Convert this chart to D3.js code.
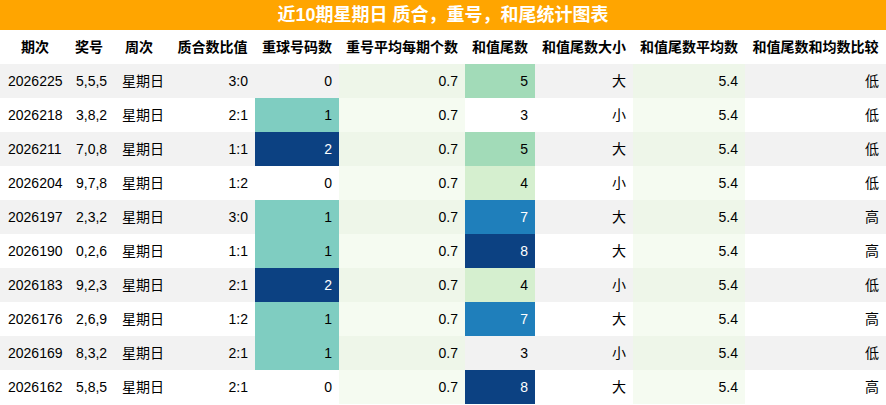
<!DOCTYPE html>
<html><head><meta charset="utf-8">
<script src="https://cdn.jsdelivr.net/npm/d3@7"></script>
<style>body{margin:0;background:#fff;font-family:"Liberation Sans","Noto Sans CJK SC",sans-serif}</style>
</head><body><svg id="c" width="886" height="405"></svg>
<script>
const title = "近10期星期日 质合，重号，和尾统计图表";
const headers = ["期次","奖号","周次","质合数比值","重球号码数","重号平均每期个数","和值尾数","和值尾数大小","和值尾数平均数","和值尾数和均数比较"];
const periods = ["2026225","2026218","2026211","2026204","2026197","2026190","2026183","2026176","2026169","2026162"];
const draws = ["5,5,5","3,8,2","7,0,8","9,7,8","2,3,2","0,2,6","9,2,3","2,6,9","8,3,2","5,8,5"];
const weekday = Array(10).fill("星期日");
const ratio = ["3:0","2:1","1:1","1:2","3:0","1:1","2:1","1:2","2:1","2:1"];
const repeatCount = [0,1,2,0,1,1,2,1,1,0];
const repeatAvg = Array(10).fill(0.7);
const tail = [5,3,5,4,7,8,4,7,3,8];
const tailSize = ["大","小","大","小","大","大","小","大","小","大"];
const tailAvg = Array(10).fill(5.4);
const compare = ["低","低","低","低","高","高","低","高","低","高"];

const svg = d3.select("#c");
const W = 886;
const edges = [0,70,108,170,255,339,465,535,633,745,886];
const x = i => edges[i];
const y = d3.scaleBand().domain(d3.range(10)).range([64,404]).padding(0);
const repColor = d3.scaleOrdinal().domain([1,2]).range(["#7fcdc1","#0c4182"]);
const tailColor = d3.scaleOrdinal().domain([4,5,7,8]).range(["#d5efcf","#a2dbb8","#1f7fbb","#0c4182"]);

svg.append("rect").attr("x",0).attr("y",0).attr("width",W).attr("height",30).attr("fill","#ffa500");
svg.append("text").attr("x",W/2).attr("y",21).attr("text-anchor","middle").attr("fill","#fff")
  .attr("font-size",18).attr("font-weight","bold").text(title);
headers.forEach((h,i)=>svg.append("text").attr("x",(x(i)+x(i+1))/2).attr("y",52).attr("text-anchor","middle")
  .attr("font-size",14).attr("font-weight","bold").attr("fill","#000").text(h));

const cols = [periods,draws,weekday,ratio,repeatCount,repeatAvg,tail,tailSize,tailAvg,compare];
const align = ["start","start","start","end","end","end","end","end","end","end"];
const startX = [8,76,122];
d3.range(10).forEach(r=>{
  const stripe = r%2===0 ? "#f2f2f2" : "#ffffff";
  cols.forEach((col,c)=>{
    let fill = stripe, tc="#000";
    if(c===5||c===8) fill = r%2===0 ? "#eef6e9" : "#f5fbf1";
    if(c===4 && repeatCount[r]>0){fill=repColor(repeatCount[r]); if(repeatCount[r]===2) tc="#fff";}
    if(c===6 && tailColor.domain().includes(tail[r])){fill=tailColor(tail[r]); if(tail[r]>=7) tc="#fff";}
    svg.append("rect").attr("x",x(c)).attr("y",y(r)).attr("width",x(c+1)-x(c)).attr("height",y.bandwidth()).attr("fill",fill);
    const v = col[r];
    const tx = align[c]==="start" ? startX[c] : x(c+1)-7;
    svg.append("text").attr("x",tx).attr("y",y(r)+y.bandwidth()/2+5).attr("text-anchor",align[c])
      .attr("font-size",14).attr("fill",tc).text(typeof v==="number"? (c===5||c===8? v.toFixed(1): v) : v);
  });
});
</script></body></html>
